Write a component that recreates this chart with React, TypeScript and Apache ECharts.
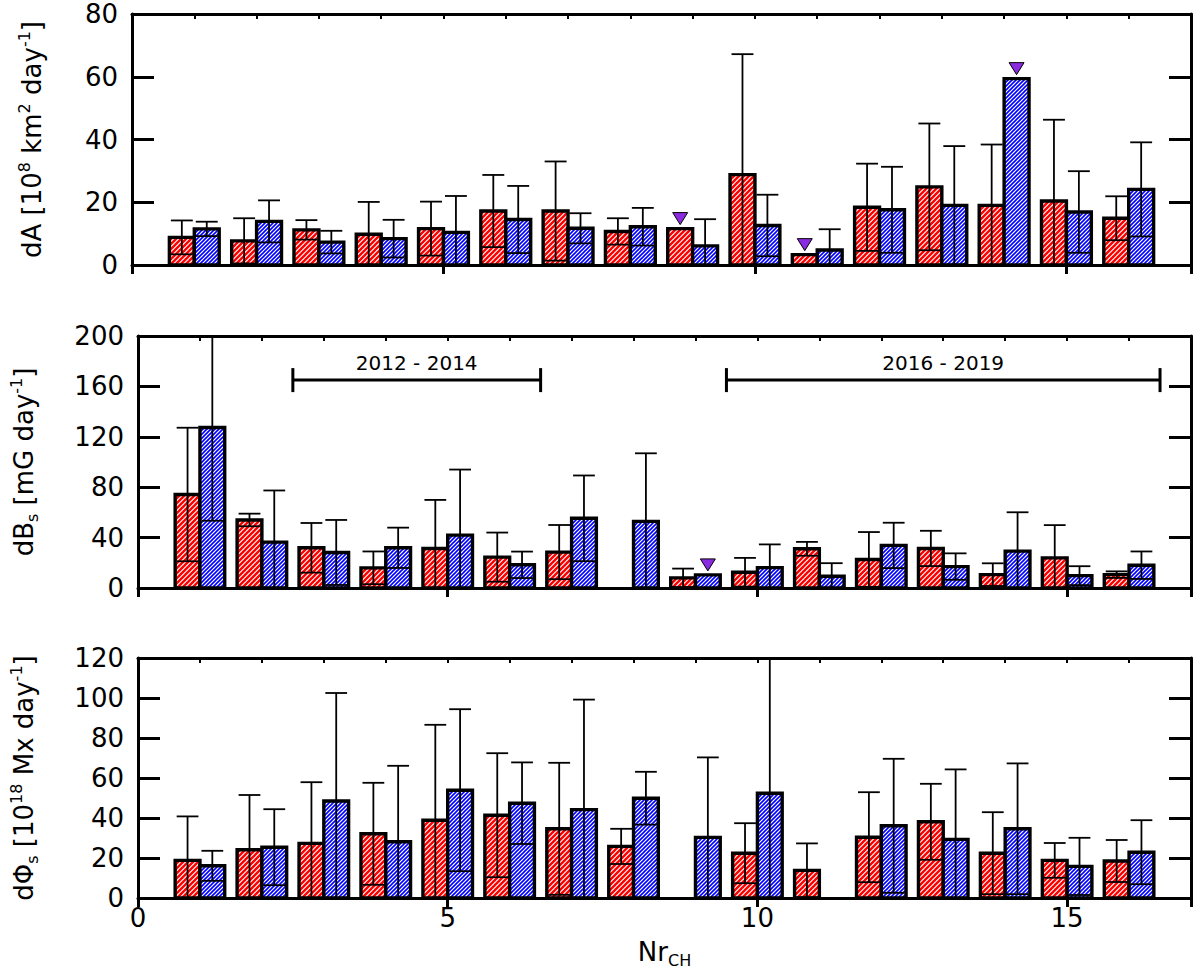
import React, { useEffect, useRef } from 'react';
import * as echarts from 'echarts';

// Nr of the coronal hole, one pair of bars each
const nr = [1, 2, 3, 4, 5, 6, 7, 8, 9, 10, 11, 12, 13, 14, 15, 16];

// dA [10^8 km^2 day^-1]
const dARed = [8.8, 7.7, 11.2, 9.8, 11.6, 17.2, 17.2, 10.7, 11.6, 28.8, 3.3, 18.4, 24.9, 19.0, 20.4, 14.9];
const dARedErr = [5.4, 7.2, 3.1, 10.3, 8.6, 11.5, 15.8, 4.2, null, 38.4, null, 13.9, 20.2, 19.4, 25.9, 7.0];
const dABlue = [11.5, 13.9, 7.3, 8.4, 10.4, 14.5, 11.7, 12.2, 6.1, 12.6, 4.8, 17.6, 19.0, 59.4, 16.9, 24.1];
const dABlueErr = [2.3, 6.7, 3.6, 6.0, 11.6, 10.7, 4.8, 6.0, 8.5, 9.8, 6.6, 13.7, 18.9, null, 13.0, 15.0];
const dAFlagRed = [9, 11];
const dAFlagBlue = [14];

// dB_s [mG day^-1]
const dBRed = [74.2, 54.0, 31.9, 16.0, 31.4, 24.5, 28.5, null, 8.0, 12.5, 31.1, 22.6, 31.4, 10.6, 23.9, 10.6];
const dBRedErr = [53, 5, 19.7, 13, 38.5, 19.5, 21.5, null, 7.4, 11.4, 5.5, 21.8, 14, 9, 26, 2.6];
const dBBlue = [127.4, 36.4, 28.2, 31.9, 42.0, 18.4, 55.3, 52.9, 10.4, 16.2, 9.3, 33.8, 17.0, 29.3, 9.8, 18.1];
const dBBlueErr = [74, 41, 25.8, 16, 52, 10.5, 34, 54, null, 18.4, 10.4, 18, 10.5, 30.8, 7.5, 10.9];
const dBFlagRed: number[] = [];
const dBFlagBlue = [9];

// dPhi_s [10^18 Mx day^-1]
const dPRed = [18.8, 24.1, 27.3, 32.1, 38.9, 41.4, 34.6, 25.8, null, 22.4, 13.8, 30.4, 38.1, 22.4, 18.8, 18.5];
const dPRedErr = [22, 27.4, 30.6, 25.5, 47.7, 31, 33, 8.8, null, 15, 13.5, 22.5, 19, 20.5, 8.7, 10.5];
const dPBlue = [16.1, 25.4, 48.5, 28.1, 53.9, 47.4, 44.2, 49.9, 30.3, 52.4, null, 36.1, 29.3, 34.6, 15.8, 22.9];
const dPBlueErr = [7.5, 19, 54, 38, 40.5, 20.4, 55, 13.2, 40, 70, null, 33.5, 35, 32.7, 14.3, 16];

// periods marked in the middle panel
const periodLabels = ['2012 - 2014', '2016 - 2019'];
const periodStart = [2.5, 9.5];
const periodEnd = [6.5, 16.5];
const periodLevel = [165, 165];

const FONT = 'DejaVu Sans';
const BAR_W = 0.4;

function hatch(color: string, step: number, lw: number) {
  const c = document.createElement('canvas');
  c.width = step;
  c.height = step;
  const ctx = c.getContext('2d')!;
  ctx.fillStyle = '#fff';
  ctx.fillRect(0, 0, step, step);
  ctx.strokeStyle = color;
  ctx.lineWidth = lw;
  ctx.beginPath();
  ctx.moveTo(-1, step + 1);
  ctx.lineTo(step + 1, -1);
  ctx.moveTo(-1, 1);
  ctx.lineTo(1, -1);
  ctx.moveTo(step - 1, step + 1);
  ctx.lineTo(step + 1, step - 1);
  ctx.stroke();
  return { image: c, repeat: 'repeat', imageWidth: step, imageHeight: step };
}

function barSeries(
  vals: (number | null)[],
  errs: (number | null)[],
  flags: number[],
  side: 'red' | 'blue',
  g: number,
  pattern: any,
) {
  const rows = nr
    .map((n, i) => ({ n, v: vals[i], e: errs[i], flag: flags.includes(n) }))
    .filter((r) => r.v != null);
  return {
    type: 'custom',
    xAxisIndex: g * 3,
    yAxisIndex: g * 2,
    clip: true,
    data: rows.map((r) => [r.n, r.v]),
    renderItem: (params: any, api: any) => {
      const r = rows[params.dataIndex];
      const v = r.v as number;
      const x0 = side === 'red' ? r.n - BAR_W : r.n;
      const x1 = x0 + BAR_W;
      const [px0, py] = api.coord([x0, v]);
      const [px1, pBase] = api.coord([x1, 0]);
      const cx = (px0 + px1) / 2;
      const half = (px1 - px0) / 2 - 1.5;
      const children: any[] = [
        {
          type: 'rect',
          shape: { x: px0, y: py, width: px1 - px0, height: pBase - py },
          style: { fill: pattern, stroke: '#000', lineWidth: 3.4 },
        },
      ];
      if (r.e != null) {
        const lo = v - r.e;
        const pLo = api.coord([x0, Math.max(0, lo)])[1];
        const pHi = api.coord([x0, v + r.e])[1];
        const ls = { stroke: '#000', lineWidth: 1.8 };
        children.push({ type: 'line', shape: { x1: cx, y1: pLo, x2: cx, y2: pHi }, style: ls });
        children.push({ type: 'line', shape: { x1: cx - half, y1: pHi, x2: cx + half, y2: pHi }, style: ls });
        if (lo > 0) {
          children.push({ type: 'line', shape: { x1: cx - half, y1: pLo, x2: cx + half, y2: pLo }, style: ls });
        }
      }
      if (r.flag) {
        children.push({
          type: 'polygon',
          shape: {
            points: [
              [cx, py - 4],
              [cx - 7.5, py - 16],
              [cx + 7.5, py - 16],
            ],
          },
          style: { fill: '#8a2be2', stroke: '#000', lineWidth: 1 },
        });
      }
      return { type: 'group', children };
    },
  };
}

const App: React.FC = () => {
  const chartRef = useRef<HTMLDivElement>(null);

  useEffect(() => {
    document.body.style.margin = '0';
    if (!chartRef.current) return;
    const chart = echarts.init(chartRef.current, null, { renderer: 'svg' });

    const redFill = hatch('#ff0000', 5, 2.4);
    const blueFill = hatch('#0000ff', 4, 1.6);

    const grids = [
      { top: 14, height: 251 },
      { top: 336, height: 252 },
      { top: 658, height: 240 },
    ];
    const yMax = [80, 200, 120];
    const yStep = [20, 40, 20];
    const yNames = [
      '{n|dA [10}{s|8}{n| km}{s|2}{n| day}{s|-1}{n|]}',
      '{n|dB}{b|s}{n| [mG day}{s|-1}{n|]}',
      '{n|dΦ}{b|s}{n| [10}{s|18}{n| Mx day}{s|-1}{n|]}',
    ];
    const yNameGap = [84, 98, 98];

    const rich = {
      n: { fontSize: 26, fontFamily: FONT, color: '#000', lineHeight: 32 },
      s: { fontSize: 16, fontFamily: FONT, color: '#000', lineHeight: 16, verticalAlign: 'top' },
      b: { fontSize: 16, fontFamily: FONT, color: '#000', lineHeight: 16, verticalAlign: 'bottom' },
    };
    const frame = { show: true, onZero: false, lineStyle: { color: '#000', width: 3 } };

    const xAxis: any[] = [];
    const yAxis: any[] = [];
    grids.forEach((_, g) => {
      xAxis.push({
        type: 'value',
        gridIndex: g,
        position: 'bottom',
        min: 0,
        max: 17,
        interval: 5,
        axisLine: frame,
        axisTick: { show: false },
        splitLine: { show: false },
        axisLabel: {
          show: g === 2,
          showMaxLabel: false,
          fontSize: 26,
          fontFamily: FONT,
          color: '#000',
          margin: 7,
        },
        name: g === 2 ? '{n|Nr}{b|CH}' : '',
        nameLocation: 'middle',
        nameGap: 38,
        nameTextStyle: { rich },
      });
      xAxis.push({
        type: 'value',
        gridIndex: g,
        position: 'top',
        min: 0,
        max: 17,
        interval: 1,
        axisLine: frame,
        axisTick: { show: true, inside: true, length: 5, lineStyle: { color: '#000', width: 2 } },
        splitLine: { show: false },
        axisLabel: { show: false },
      });
      xAxis.push({
        type: 'value',
        gridIndex: g,
        position: 'top',
        min: 0,
        max: 17,
        interval: 5,
        axisLine: { show: false },
        axisTick: { show: true, inside: true, length: 9, lineStyle: { color: '#000', width: 3 } },
        splitLine: { show: false },
        axisLabel: { show: false },
      });
      yAxis.push({
        type: 'value',
        gridIndex: g,
        position: 'left',
        min: 0,
        max: yMax[g],
        interval: yStep[g],
        axisLine: frame,
        axisTick: { show: true, inside: true, length: 22, lineStyle: { color: '#000', width: 3 } },
        splitLine: { show: false },
        axisLabel: { fontSize: 26, fontFamily: FONT, color: '#000', margin: 14 },
        name: yNames[g],
        nameLocation: 'middle',
        nameGap: yNameGap[g],
        nameTextStyle: { rich },
      });
      yAxis.push({
        type: 'value',
        gridIndex: g,
        position: 'right',
        min: 0,
        max: yMax[g],
        interval: yStep[g],
        axisLine: frame,
        axisTick: { show: true, inside: true, length: 22, lineStyle: { color: '#000', width: 3 } },
        splitLine: { show: false },
        axisLabel: { show: false },
      });
    });

    const periodRows = periodLabels.map((label, i) => ({
      label,
      s: periodStart[i],
      e: periodEnd[i],
      y: periodLevel[i],
    }));

    const option: any = {
      animation: false,
      backgroundColor: '#fff',
      grid: grids.map((gr) => ({ left: 132, right: 9, top: gr.top, height: gr.height })),
      xAxis,
      yAxis,
      series: [
        barSeries(dARed, dARedErr, dAFlagRed, 'red', 0, redFill),
        barSeries(dABlue, dABlueErr, dAFlagBlue, 'blue', 0, blueFill),
        barSeries(dBRed, dBRedErr, dBFlagRed, 'red', 1, redFill),
        barSeries(dBBlue, dBBlueErr, dBFlagBlue, 'blue', 1, blueFill),
        barSeries(dPRed, dPRedErr, [], 'red', 2, redFill),
        barSeries(dPBlue, dPBlueErr, [], 'blue', 2, blueFill),
        {
          type: 'custom',
          xAxisIndex: 3,
          yAxisIndex: 2,
          data: periodRows.map((p) => [p.s, p.y]),
          renderItem: (params: any, api: any) => {
            const p = periodRows[params.dataIndex];
            const [a, y] = api.coord([p.s, p.y]);
            const [b] = api.coord([p.e, p.y]);
            const ls = { stroke: '#000', lineWidth: 3 };
            return {
              type: 'group',
              children: [
                { type: 'line', shape: { x1: a, y1: y, x2: b, y2: y }, style: ls },
                { type: 'line', shape: { x1: a, y1: y - 12, x2: a, y2: y + 12 }, style: ls },
                { type: 'line', shape: { x1: b, y1: y - 12, x2: b, y2: y + 12 }, style: ls },
                {
                  type: 'text',
                  style: {
                    text: p.label,
                    x: (a + b) / 2,
                    y: y - 7,
                    align: 'center',
                    verticalAlign: 'bottom',
                    fontSize: 20,
                    fontFamily: FONT,
                    fill: '#000',
                  },
                },
              ],
            };
          },
        },
      ],
    };

    chart.setOption(option);
    return () => {
      chart.dispose();
    };
  }, []);

  return <div ref={chartRef} style={{ width: 1200, height: 976 }} />;
};

export default App;
